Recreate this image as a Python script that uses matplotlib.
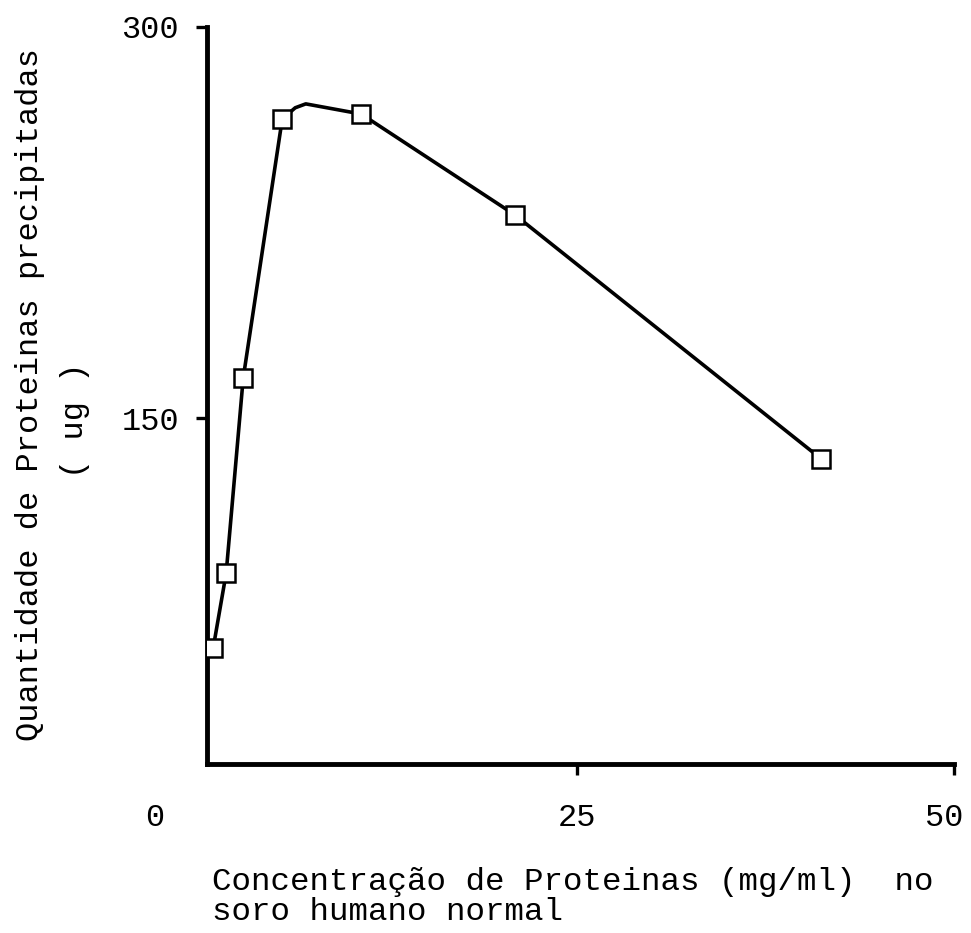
import matplotlib
matplotlib.use("Agg")
import matplotlib.pyplot as plt
from matplotlib.transforms import ScaledTranslation

# measured points (x: mg/ml, y: ug precipitated)
conc = [0.86, 1.72, 2.85, 5.44, 10.68, 20.9, 41.2]
precip = [61.8, 90.5, 165.3, 264.7, 266.6, 227.8, 134.3]

# hand-drawn curve as traced (includes the small hump past the 4th point)
curve_x = [0.86, 1.72, 2.85, 5.44, 6.3, 7.0, 10.68, 20.9, 41.2]
curve_y = [61.8, 90.5, 165.3, 264.7, 269.0, 270.5, 266.6, 227.8, 134.3]

xticks = [25, 50]
yticks = [150, 300]

FONT = "Liberation Mono"
plt.rcParams["font.family"] = FONT

fig = plt.figure(figsize=(9.71, 9.33), dpi=100)
ax = fig.add_axes([0.2132, 0.1811, 0.7693, 0.79])

ax.plot(curve_x, curve_y, color="black", lw=2.6, zorder=2,
        solid_joinstyle="round")
ax.plot(conc, precip, ls="none", marker="s", ms=13.5, mfc="white",
        mec="black", mew=1.8, zorder=3)

ax.set_xlim(0.45, 50)
ax.set_ylim(17.3, 300)
ax.set_xticks(xticks)
ax.set_yticks(yticks)
ax.tick_params(axis="both", length=8, width=2.4, labelsize=23, color="black")
ax.tick_params(axis="x", pad=20)
ax.tick_params(axis="y", pad=12)

# last x label pulled in a little so it stays on the page
lbl = ax.get_xticklabels()[-1]
lbl.set_transform(lbl.get_transform() + ScaledTranslation(-10 / 100, 0, fig.dpi_scale_trans))

for s in ["top", "right"]:
    ax.spines[s].set_visible(False)
for s in ["left", "bottom"]:
    ax.spines[s].set_linewidth(3.5)
    ax.spines[s].set_capstyle("projecting")

# origin label sits apart from the axes corner
fig.text(155 / 971, 1 - 818 / 933, "0", fontsize=23, ha="center", va="center")

fig.text(212 / 971, 1 - 897 / 933,
         "Concentração de Proteinas (mg/ml)  no\nsoro humano normal",
         fontsize=23.4, ha="left", va="center", linespacing=1.0)

fig.text(30 / 971, 1 - 394 / 933, "Quantidade de Proteinas precipitadas",
         fontsize=23, rotation=90, ha="center", va="center")
fig.text(75 / 971, 1 - 420 / 933, "( ug )",
         fontsize=23, rotation=90, ha="center", va="center")

fig.savefig("out.png", dpi=100)
